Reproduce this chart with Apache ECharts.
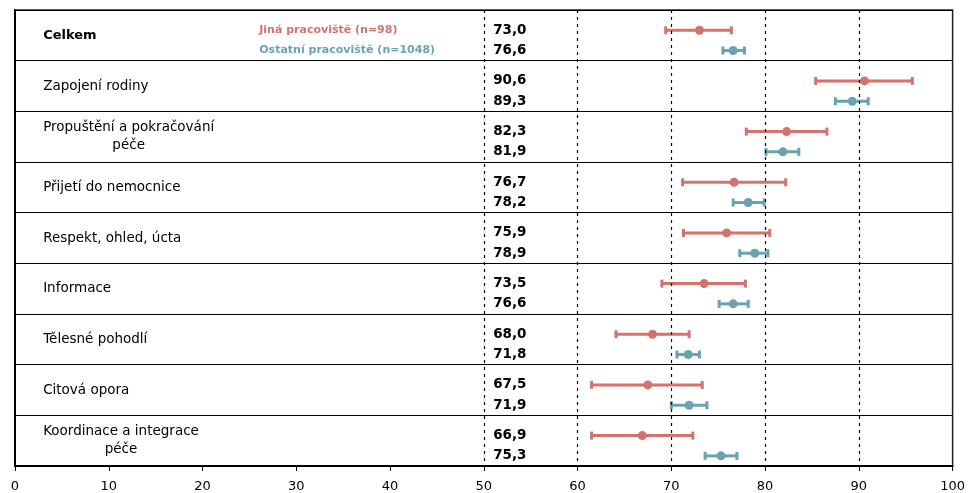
<!DOCTYPE html>
<html>
<head>
<meta charset="utf-8">
<script src="https://cdn.jsdelivr.net/npm/echarts@6/dist/echarts.min.js"></script>
<style>
html,body{margin:0;padding:0;background:#fff;}
#chart{width:968px;height:493px;}
</style>
</head>
<body>
<div id="chart"></div>
<script>
// ---- data ----
const categories = ['Celkem', 'Zapojení rodiny', 'Propuštění a pokračování\npéče', 'Přijetí do nemocnice', 'Respekt, ohled, úcta', 'Informace', 'Tělesné pohodlí', 'Citová opora', 'Koordinace a integrace\npéče'];
const seriesNames = ['Jiná pracoviště (n=98)', 'Ostatní pracoviště (n=1048)'];
const redMean = [73.0, 90.6, 82.3, 76.7, 75.9, 73.5, 68.0, 67.5, 66.9];
const redLow  = [69.4, 85.4, 78.0, 71.2, 71.3, 69.0, 64.1, 61.5, 61.5];
const redHigh = [76.4, 95.7, 86.6, 82.2, 80.5, 77.9, 71.9, 73.3, 72.3];
const blueMean = [76.6, 89.3, 81.9, 78.2, 78.9, 76.6, 71.8, 71.9, 75.3];
const blueLow  = [75.5, 87.5, 80.1, 76.6, 77.3, 75.1, 70.6, 70.0, 73.6];
const blueHigh = [77.8, 91.0, 83.6, 79.9, 80.3, 78.2, 73.0, 73.8, 77.0];
const xTicks = [0, 10, 20, 30, 40, 50, 60, 70, 80, 90, 100];
const refLines = [50, 60, 70, 80, 90];

// ---- layout / style ----
const RED = '#d4726d', BLUE = '#6aa3b0';
const FONT = 'DejaVu Sans, Verdana, sans-serif';
const OFF_RED = 0.4, OFF_BLUE = 0.8;
const X_CAT = 3, X_VAL = 51, X_LEG = 26.05;
const fmt = v => v.toFixed(1).replace('.', ',');

function errData(lo, hi, off) { return lo.map((l, i) => [l, hi[i], i + off]); }
function ptData(m, off) { return m.map((v, i) => [v, i + off]); }

function errRender(color) {
  return function (params, api) {
    const y = api.value(2);
    const p1 = api.coord([api.value(0), y]);
    const p2 = api.coord([api.value(1), y]);
    const h = 4;
    const st = { stroke: color, lineWidth: 3, lineCap: 'butt' };
    return {
      type: 'group',
      children: [
        { type: 'line', shape: { x1: p1[0], y1: p1[1], x2: p2[0], y2: p2[1] }, style: st },
        { type: 'line', shape: { x1: p1[0], y1: p1[1] - h, x2: p1[0], y2: p1[1] + h }, style: st },
        { type: 'line', shape: { x1: p2[0], y1: p2[1] - h, x2: p2[0], y2: p2[1] + h }, style: st }
      ]
    };
  };
}

function textSeries(data, styleFn) {
  return {
    type: 'custom', silent: true, z: 5,
    data: data,
    renderItem: function (params, api) {
      const p = api.coord([api.value(0), api.value(1)]);
      return { type: 'text', x: p[0], y: p[1], style: styleFn(params.dataIndex) };
    }
  };
}

const catData = categories.map((c, i) => [X_CAT, i + 0.5]);
const valRed = redMean.map((v, i) => [X_VAL, i + OFF_RED]);
const valBlue = blueMean.map((v, i) => [X_VAL, i + OFF_BLUE]);

const chart = echarts.init(document.getElementById('chart'), null, { renderer: 'canvas' });
chart.setOption({
  animation: false,
  backgroundColor: '#fff',
  grid: { left: 15, right: 14, top: 10, bottom: 27, show: true, borderColor: '#222', borderWidth: 1.5 },
  xAxis: {
    type: 'value', min: 0, max: 100, interval: 10, position: 'bottom',
    axisLine: { show: true, onZero: false, lineStyle: { color: '#000', width: 2 } },
    axisTick: { show: true, length: 5, lineStyle: { color: '#000', width: 1 } },
    axisLabel: { color: '#000', fontSize: 13, fontFamily: FONT, margin: 14,
      formatter: v => xTicks.includes(v) ? String(v) : '' },
    splitLine: { show: false }
  },
  yAxis: {
    type: 'value', min: 0, max: 9, interval: 1, inverse: true,
    axisLine: { show: true, onZero: false, lineStyle: { color: '#000', width: 2 } },
    axisTick: { show: false }, axisLabel: { show: false },
    splitLine: { show: true, lineStyle: { color: '#000', width: 1.2 } }
  },
  series: [
    {
      type: 'custom', name: seriesNames[0], silent: true, z: 3,
      data: errData(redLow, redHigh, OFF_RED),
      renderItem: errRender(RED),
      markLine: {
        silent: true, symbol: 'none', label: { show: false },
        lineStyle: { color: '#000', width: 1.2, type: [3, 4] },
        data: refLines.map(v => ({ xAxis: v }))
      }
    },
    {
      type: 'custom', name: seriesNames[1], silent: true, z: 3,
      data: errData(blueLow, blueHigh, OFF_BLUE),
      renderItem: errRender(BLUE)
    },
    { type: 'scatter', name: seriesNames[0], data: ptData(redMean, OFF_RED), symbol: 'circle', symbolSize: 9, itemStyle: { color: RED, opacity: 1 }, z: 4, silent: true },
    { type: 'scatter', name: seriesNames[1], data: ptData(blueMean, OFF_BLUE), symbol: 'circle', symbolSize: 9, itemStyle: { color: BLUE, opacity: 1 }, z: 4, silent: true },
    textSeries(catData, i => {
      const c = categories[i];
      if (c.indexOf('\n') >= 0) {
        return {
          text: c.split('\n').map(s => '{a|' + s + '}').join('\n'),
          align: 'left', verticalAlign: 'middle',
          rich: { a: { align: 'center', fontSize: 13.5, fontFamily: FONT, fill: '#000', lineHeight: 18 } }
        };
      }
      return {
        text: c, align: 'left', verticalAlign: 'middle', fill: '#000',
        font: (i === 0 ? 'bold 13px ' : '13.5px ') + FONT
      };
    }),
    textSeries(valRed, i => ({ text: fmt(redMean[i]), align: 'left', verticalAlign: 'middle', fill: '#000', font: 'bold 13.5px ' + FONT })),
    textSeries(valBlue, i => ({ text: fmt(blueMean[i]), align: 'left', verticalAlign: 'middle', fill: '#000', font: 'bold 13.5px ' + FONT })),
    textSeries([[X_LEG, OFF_RED], [X_LEG, OFF_BLUE]], i => ({
      text: seriesNames[i], align: 'left', verticalAlign: 'middle',
      fill: i === 0 ? RED : BLUE, font: 'bold 11px ' + FONT
    }))
  ]
});
</script>
</body>
</html>
